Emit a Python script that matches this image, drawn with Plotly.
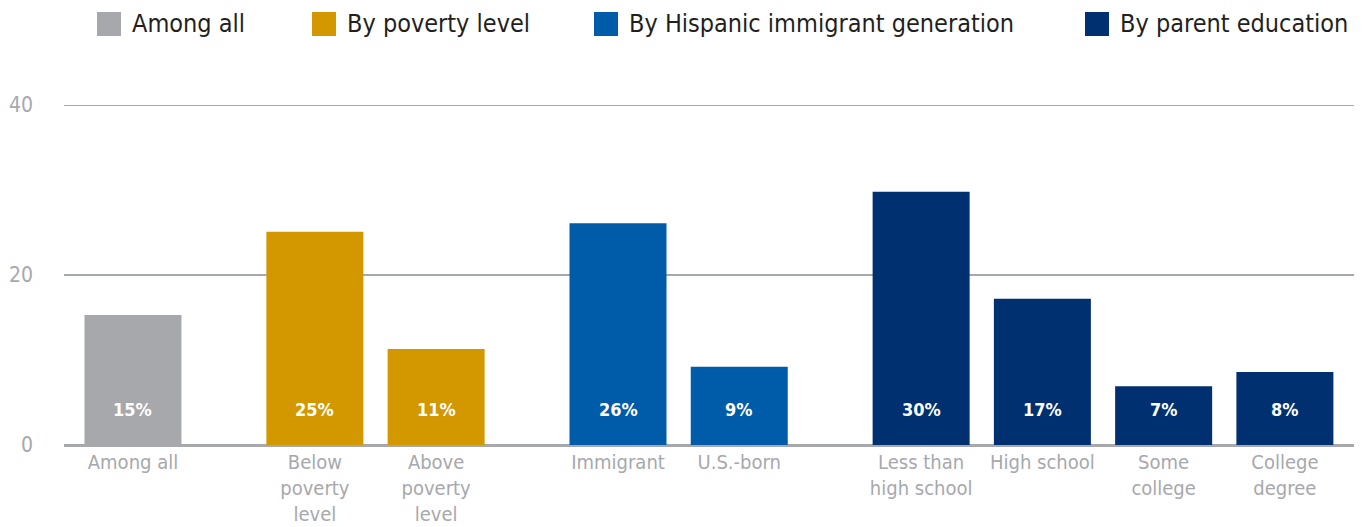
import plotly.graph_objects as go

# ---- data ----
groups = ["Among all", "By poverty level", "By Hispanic immigrant generation", "By parent education"]
group_colors = ["#a7a8ac", "#d39800", "#005ba8", "#00306f"]
categories = [
    ["Among all"],
    ["Below<br>poverty<br>level", "Above<br>poverty<br>level"],
    ["Immigrant", "U.S.-born"],
    ["Less than<br>high school", "High school", "Some<br>college", "College<br>degree"],
]
values = [
    [15.3],
    [25.1, 11.3],
    [26.1, 9.2],
    [29.8, 17.2, 6.9, 8.6],
]
value_labels = [
    ["15%"],
    ["25%", "11%"],
    ["26%", "9%"],
    ["30%", "17%", "7%", "8%"],
]
y_ticks = [0, 20, 40]

FONT = "DejaVu Sans Condensed, Liberation Sans Narrow, Arial Narrow, sans-serif"
GRID = "#a7a8ac"

fig = go.Figure()

tickvals, ticktext = [], []
annotations = []
slot = 0.0
for gi, (g, cats, vals, labs) in enumerate(zip(groups, categories, values, value_labels)):
    xs = []
    for c, v, lab in zip(cats, vals, labs):
        xs.append(slot)
        tickvals.append(slot)
        ticktext.append(c)
        annotations.append(dict(
            x=slot, y=0, xref="x", yref="y", text=f"<b>{lab}</b>",
            showarrow=False, yanchor="middle", yshift=36,
            font=dict(family=FONT, size=18, color="white"),
        ))
        slot += 1.0
    slot += 0.5
    fig.add_trace(go.Bar(
        x=xs, y=vals, name=g, width=0.8,
        marker=dict(color=group_colors[gi], line=dict(width=0)),
        showlegend=False, hoverinfo="skip",
    ))

# ---- custom legend (large square swatches) ----
W, H = 1364, 527
ml, mr, mt, mb = 64, 10, 105, 82
pw, ph = W - ml - mr, H - mt - mb

def px_x(p):
    return (p - ml) / pw

def px_y(p):
    return (H - mb - p) / ph

legend_sq_left = [97, 312, 594, 1085]
shapes = []
for gi, g in enumerate(groups):
    x0 = legend_sq_left[gi]
    shapes.append(dict(
        type="rect", xref="paper", yref="paper",
        x0=px_x(x0), x1=px_x(x0 + 24), y0=px_y(36), y1=px_y(12),
        fillcolor=group_colors[gi], line=dict(width=0),
    ))
    annotations.append(dict(
        x=px_x(x0 + 33), y=px_y(24), xref="paper", yref="paper",
        text=g, showarrow=False, xanchor="left", yanchor="middle",
        font=dict(family=FONT, size=25, color="#231f20"),
    ))

# top gridline (plotly clips gridlines at the very edge of the range)
shapes.append(dict(
    type="line", xref="paper", yref="y", x0=0, x1=1,
    y0=y_ticks[-1], y1=y_ticks[-1], line=dict(color=GRID, width=2), layer="below",
))

fig.update_layout(
    width=W, height=H,
    margin=dict(l=ml, r=mr, t=mt, b=mb, autoexpand=False),
    paper_bgcolor="white", plot_bgcolor="white",
    shapes=shapes,
    annotations=annotations,
    xaxis=dict(
        range=[-0.569, 10.07], tickvals=tickvals, ticktext=ticktext,
        showgrid=False, zeroline=False, showline=False, ticks="",
        ticklabelstandoff=3, automargin=False,
        tickfont=dict(family=FONT, size=20, color="#a7a8ac"),
        fixedrange=True,
    ),
    yaxis=dict(
        range=[0, 40], tickvals=y_ticks, showgrid=True, gridcolor=GRID,
        gridwidth=2, zeroline=True, zerolinecolor=GRID, zerolinewidth=3,
        showline=False, ticks="", ticklabelstandoff=30, automargin=False,
        tickfont=dict(family=FONT, size=21, color="#a7a8ac"),
        fixedrange=True,
    ),
    showlegend=False,
)

fig.write_html(
    "out.html",
    config={"displayModeBar": False},
    post_script="document.body.style.margin='0';document.body.style.overflow='hidden';",
)
